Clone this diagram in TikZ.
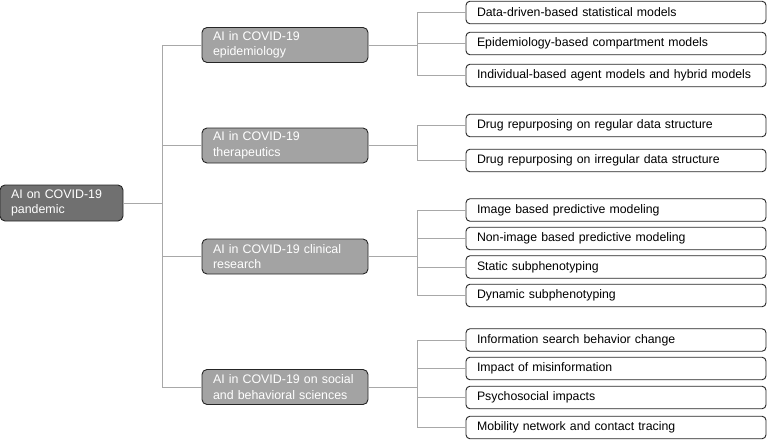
\documentclass[tikz,border=0pt]{standalone}
\usepackage{fontspec}
\setmainfont{Liberation Sans}
\definecolor{rootgray}{HTML}{707070}
\definecolor{topicgray}{HTML}{A3A3A3}
\definecolor{linegray}{HTML}{A8A8A8}
\begin{document}
\begin{tikzpicture}[x=1pt,y=-1pt,every node/.style={font=\fontsize{12.3}{14}\selectfont},
  rootbox/.style={draw=black!85,line width=0.9pt,rounded corners=5pt,fill=rootgray,text=white,
    font=\fontsize{12.4}{15.5}\selectfont,inner xsep=11pt,text width=101pt,align=left,minimum height=36pt},
  topicbox/.style={rootbox,fill=topicgray,text width=144pt,minimum height=35pt},
  leafbox/.style={draw=black!85,line width=0.9pt,rounded corners=4pt,fill=white,
    inner xsep=11pt,inner ysep=2pt,text width=278pt,align=left,minimum height=22.5pt},
  link/.style={draw=linegray,line width=0.9pt}]
\useasboundingbox (0,0) rectangle (770,441);
% root and topics
\node[rootbox] (root) at (61.5,203) {AI on COVID-19\\pandemic};
\node[topicbox] (epi) at (285,45) {AI in COVID-19\\epidemiology};
\node[topicbox] (the) at (285,145.5) {AI in COVID-19\\therapeutics};
\node[topicbox] (cli) at (285,256.5) {AI in COVID-19 clinical\\research};
\node[topicbox] (soc) at (285,387) {AI in COVID-19 on social\\and behavioral sciences};
% leaves
\foreach \y/\name/\txt in {12.5/e1/Data-driven-based statistical models,
    43.5/e2/Epidemiology-based compartment models,
    75.5/e3/Individual-based agent models and hybrid models,
    125.5/t1/Drug repurposing on regular data structure,
    160.5/t2/Drug repurposing on irregular data structure,
    210/c1/Image based predictive modeling,
    238.5/c2/Non-image based predictive modeling,
    267/c3/Static subphenotyping,
    295.5/c4/Dynamic subphenotyping,
    340/s1/Information search behavior change,
    368.5/s2/Impact of misinformation,
    397.5/s3/Psychosocial impacts,
    427.5/s4/Mobility network and contact tracing}
  \node[leafbox] (\name) at (616,\y) {\txt};
% junctions
\coordinate (rootJ) at (162,203);
\coordinate (epiJ) at (417,45);
\coordinate (theJ) at (417,145.5);
\coordinate (cliJ) at (417,256.5);
\coordinate (socJ) at (417,387);
% connectors
\draw[link] (root.east) -- (rootJ);
\foreach \name in {epi,the,cli,soc} \draw[link] (rootJ) |- (\name.west);
\draw[link] (epi.east) -- (epiJ);
\draw[link] (the.east) -- (theJ);
\draw[link] (cli.east) -- (cliJ);
\draw[link] (soc.east) -- (socJ);
\foreach \name in {e1,e2,e3} \draw[link] (epiJ) |- (\name.west);
\foreach \name in {t1,t2} \draw[link] (theJ) |- (\name.west);
\foreach \name in {c1,c2,c3,c4} \draw[link] (cliJ) |- (\name.west);
\foreach \name in {s1,s2,s3,s4} \draw[link] (socJ) |- (\name.west);
\end{tikzpicture}
\end{document}
